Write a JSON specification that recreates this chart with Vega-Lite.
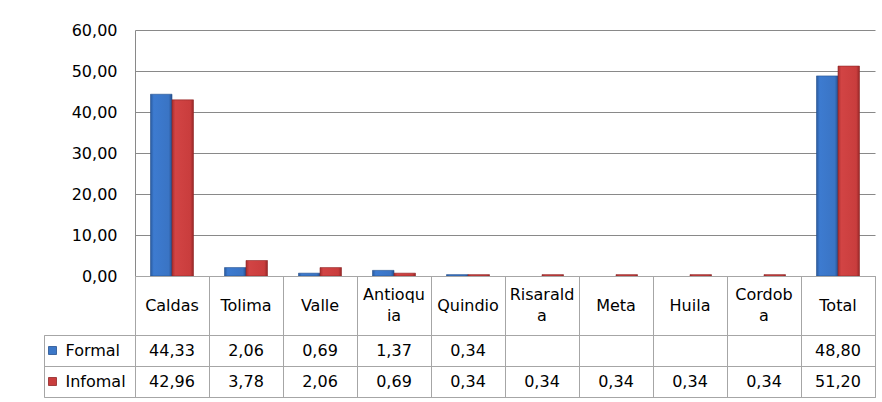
{
  "$schema": "https://vega.github.io/schema/vega-lite/v6.json",
  "padding": {"left": 43, "top": 22, "right": 8, "bottom": 4},
  "background": "#ffffff",
  "datasets": {
    "values": [
      {"dept": "Caldas", "serie": "Formal", "value": 44.33},
      {"dept": "Tolima", "serie": "Formal", "value": 2.06},
      {"dept": "Valle", "serie": "Formal", "value": 0.69},
      {"dept": "Antioquia", "serie": "Formal", "value": 1.37},
      {"dept": "Quindio", "serie": "Formal", "value": 0.34},
      {"dept": "Total", "serie": "Formal", "value": 48.80},
      {"dept": "Caldas", "serie": "Infomal", "value": 42.96},
      {"dept": "Tolima", "serie": "Infomal", "value": 3.78},
      {"dept": "Valle", "serie": "Infomal", "value": 2.06},
      {"dept": "Antioquia", "serie": "Infomal", "value": 0.69},
      {"dept": "Quindio", "serie": "Infomal", "value": 0.34},
      {"dept": "Risaralda", "serie": "Infomal", "value": 0.34},
      {"dept": "Meta", "serie": "Infomal", "value": 0.34},
      {"dept": "Huila", "serie": "Infomal", "value": 0.34},
      {"dept": "Cordoba", "serie": "Infomal", "value": 0.34},
      {"dept": "Total", "serie": "Infomal", "value": 51.20}
    ],
    "depts": [
      {"dept": "Caldas", "label": "Caldas"},
      {"dept": "Tolima", "label": "Tolima"},
      {"dept": "Valle", "label": "Valle"},
      {"dept": "Antioquia", "label": "Antioqu\nia"},
      {"dept": "Quindio", "label": "Quindio"},
      {"dept": "Risaralda", "label": "Risarald\na"},
      {"dept": "Meta", "label": "Meta"},
      {"dept": "Huila", "label": "Huila"},
      {"dept": "Cordoba", "label": "Cordob\na"},
      {"dept": "Total", "label": "Total"}
    ],
    "series": [
      {"serie": "Formal"},
      {"serie": "Infomal"}
    ]
  },
  "columns": 2,
  "spacing": 0,
  "bounds": "flush",
  "align": "each",
  "concat": [
    {
      "width": 91, "height": 246,
      "view": {"stroke": null},
      "data": {"name": "series"},
      "mark": {"type": "point", "opacity": 0},
      "encoding": {}
    },
    {
      "width": 740, "height": 246,
      "view": {"stroke": null},
      "data": {"name": "values"},
      "encoding": {
        "x": {"field": "dept", "type": "nominal", "scale": {"domain": ["Caldas","Tolima","Valle","Antioquia","Quindio","Risaralda","Meta","Huila","Cordoba","Total"], "paddingInner": 0.419, "paddingOuter": 0.2095}, "axis": null},
        "xOffset": {"field": "serie", "type": "nominal", "scale": {"domain": ["Formal", "Infomal"], "paddingInner": 0, "paddingOuter": 0}},
        "y": {"field": "value", "type": "quantitative", "scale": {"domain": [0, 60], "nice": false},
          "axis": {"values": [0,10,20,30,40,50,60], "format": ".2f", "title": null, "grid": true, "gridColor": "#898989", "gridOpacity": 1, "domainColor": "#898989", "ticks": false, "tickSize": 0, "labelPadding": 18, "labelFontSize": 16, "labelFont": "DejaVu Sans", "labelColor": "#000000"}}
      },
      "layer": [
        {
          "transform": [{"filter": "datum.serie === 'Formal'"}],
          "mark": {"type": "bar", "stroke": "#24508f", "strokeWidth": 0.6,
            "fill": {"gradient": "linear", "x1": 0, "x2": 1, "y1": 0, "y2": 0, "stops": [
              {"offset": 0, "color": "#2a5a9e"}, {"offset": 0.15, "color": "#3d7bd0"}, {"offset": 0.85, "color": "#3a74c4"}, {"offset": 1, "color": "#26508f"}]}}
        },
        {
          "transform": [{"filter": "datum.serie === 'Infomal'"}],
          "mark": {"type": "bar", "stroke": "#8f2626", "strokeWidth": 0.6,
            "fill": {"gradient": "linear", "x1": 0, "x2": 1, "y1": 0, "y2": 0, "stops": [
              {"offset": 0, "color": "#a82e2e"}, {"offset": 0.15, "color": "#d24444"}, {"offset": 0.85, "color": "#c93d3d"}, {"offset": 1, "color": "#982828"}]}}
        }
      ]
    },
    {
      "width": 91, "height": 59,
      "view": {"stroke": null},
      "data": {"name": "series"},
      "mark": {"type": "point", "opacity": 0},
      "encoding": {}
    },
    {
      "width": 740, "height": 59,
      "view": {"stroke": "#a6a6a6"},
      "data": {"name": "depts"},
      "mark": {"type": "text", "lineBreak": "\n", "fontSize": 16, "font": "DejaVu Sans", "lineHeight": 21.5, "baseline": "middle", "color": "#000000",
        "dy": {"expr": "indexof(datum.label, '\\n') >= 0 ? -10.75 : 0"}},
      "encoding": {
        "x": {"field": "dept", "type": "nominal", "scale": {"domain": ["Caldas","Tolima","Valle","Antioquia","Quindio","Risaralda","Meta","Huila","Cordoba","Total"], "paddingInner": 0, "paddingOuter": 0},
          "axis": {"title": null, "grid": true, "tickBand": "extent", "gridColor": "#a6a6a6", "gridOpacity": 1, "labels": false, "ticks": false, "domain": false}},
        "text": {"field": "label"}
      }
    },
    {
      "width": 91, "height": 62,
      "view": {"stroke": "#a6a6a6"},
      "data": {"name": "series"},
      "encoding": {
        "y": {"field": "serie", "type": "nominal", "scale": {"domain": ["Formal", "Infomal"], "paddingInner": 0, "paddingOuter": 0},
          "axis": {"title": null, "grid": true, "tickBand": "extent", "gridColor": "#a6a6a6", "gridOpacity": 1, "labels": false, "ticks": false, "domain": false}}
      },
      "layer": [
        {
          "mark": {"type": "point", "shape": "square", "filled": true, "size": 64, "opacity": 1, "xOffset": -37, "strokeWidth": 0.8},
          "encoding": {
            "fill": {"field": "serie", "type": "nominal", "scale": {"domain": ["Formal", "Infomal"], "range": ["#3c78c8", "#c93d3d"]}, "legend": null},
            "stroke": {"field": "serie", "type": "nominal", "scale": {"domain": ["Formal", "Infomal"], "range": ["#24508f", "#8f2626"]}, "legend": null}
          }
        },
        {
          "mark": {"type": "text", "align": "left", "baseline": "middle", "fontSize": 16, "font": "DejaVu Sans", "dx": -24, "color": "#000000"},
          "encoding": {"text": {"field": "serie"}}
        }
      ]
    },
    {
      "width": 740, "height": 62,
      "view": {"stroke": "#a6a6a6"},
      "data": {"name": "values"},
      "mark": {"type": "text", "fontSize": 16, "font": "DejaVu Sans", "baseline": "middle", "color": "#000000"},
      "encoding": {
        "x": {"field": "dept", "type": "nominal", "scale": {"domain": ["Caldas","Tolima","Valle","Antioquia","Quindio","Risaralda","Meta","Huila","Cordoba","Total"], "paddingInner": 0, "paddingOuter": 0},
          "axis": {"title": null, "grid": true, "tickBand": "extent", "gridColor": "#a6a6a6", "gridOpacity": 1, "labels": false, "ticks": false, "domain": false}},
        "y": {"field": "serie", "type": "nominal", "scale": {"domain": ["Formal", "Infomal"], "paddingInner": 0, "paddingOuter": 0},
          "axis": {"title": null, "grid": true, "tickBand": "extent", "gridColor": "#a6a6a6", "gridOpacity": 1, "labels": false, "ticks": false, "domain": false}},
        "text": {"field": "value", "type": "quantitative", "format": ".2f"}
      }
    }
  ],
  "config": {
    "font": "DejaVu Sans",
    "locale": {"number": {"decimal": ",", "thousands": ".", "grouping": [3], "currency": ["$", ""]}},
    "axis": {"labelFont": "DejaVu Sans"}
  }
}
